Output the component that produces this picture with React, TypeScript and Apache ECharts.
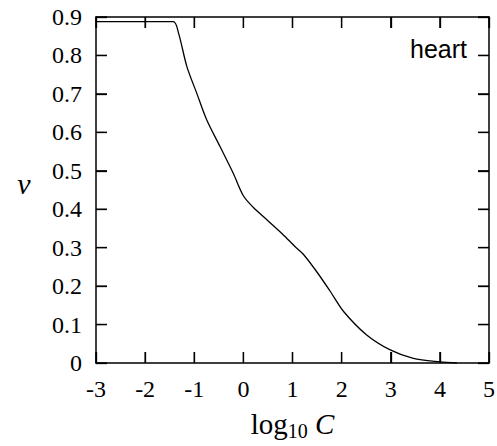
import React, { useEffect, useRef } from "react";
import * as echarts from "echarts";

const logC = [-3, -1.43, -1.32, -1.15, -0.95, -0.745, -0.475, -0.204, 0.0, 0.2, 0.5, 0.8, 1.05, 1.22, 1.49, 1.77, 2.04, 2.51, 2.99, 3.46, 4.0, 4.35];
const nu = [0.888, 0.888, 0.858, 0.771, 0.702, 0.632, 0.563, 0.493, 0.435, 0.405, 0.37, 0.335, 0.303, 0.283, 0.238, 0.186, 0.134, 0.073, 0.034, 0.012, 0.003, 0.0];
const xTicks = [-3, -2, -1, 0, 1, 2, 3, 4, 5];
const yTicks = [0, 0.1, 0.2, 0.3, 0.4, 0.5, 0.6, 0.7, 0.8, 0.9];

const SERIF = "Liberation Serif";
const TICK_LEN = 11;

const mkLine = () => ({ show: true, onZero: false, lineStyle: { color: "#000", width: 1.5 } });
const mkTick = () => ({ show: true, inside: true, length: TICK_LEN, lineStyle: { color: "#000", width: 1.3 } });
const labelRich = { v: { fontFamily: SERIF, fontSize: 24, color: "#000" } };

export default function App() {
  const ref = useRef<HTMLDivElement>(null);
  useEffect(() => {
    if (!ref.current) return;
    const chart = echarts.init(ref.current, undefined, { renderer: "svg" });
    const yMin = yTicks[0];
    const yMax = yTicks[yTicks.length - 1];
    const xMin = xTicks[0];
    const xMax = xTicks[xTicks.length - 1];
    const tickStyle = { stroke: "#000", lineWidth: 1.3 };
    chart.setOption({
      animation: false,
      backgroundColor: "#fff",
      textStyle: { fontFamily: SERIF, color: "#000" },
      grid: { left: 96, right: 8, top: 17, bottom: 83, containLabel: false, outerBoundsMode: "none" },
      xAxis: [
        {
          type: "value", min: xMin, max: xMax, interval: 1, position: "bottom",
          axisLine: mkLine(), axisTick: mkTick(), splitLine: { show: false },
          axisLabel: { show: true, margin: 14, rich: labelRich,
            formatter: (v: number) => (xTicks.includes(v) ? "{v|" + String(v) + "}" : "") },
          name: "{a|log}{s|10}{c| C}", nameLocation: "middle", nameGap: 44,
          nameTextStyle: {
            rich: {
              a: { fontFamily: SERIF, fontSize: 29, color: "#000" },
              s: { fontFamily: SERIF, fontSize: 20, color: "#000", padding: [14, 0, 0, 0] },
              c: { fontFamily: SERIF, fontSize: 29, fontStyle: "italic", color: "#000" },
            },
          },
        },
        {
          type: "value", min: xMin, max: xMax, interval: 1, position: "top",
          axisLine: mkLine(), axisTick: mkTick(), axisLabel: { show: false }, splitLine: { show: false },
        },
      ],
      yAxis: [
        {
          type: "value", min: yMin, max: yMax, interval: 0.1, position: "left",
          axisLine: mkLine(), axisTick: mkTick(), splitLine: { show: false },
          axisLabel: { show: true, margin: 14, rich: labelRich,
            formatter: (v: number) => {
              const t = yTicks.find((y) => Math.abs(y - v) < 1e-6);
              if (t === undefined) return "";
              return "{v|" + (t === 0 ? "0" : t.toFixed(1)) + "}";
            } },
        },
        {
          type: "value", min: yMin, max: yMax, interval: 0.1, position: "right",
          axisLine: mkLine(), axisTick: mkTick(), axisLabel: { show: false }, splitLine: { show: false },
        },
      ],
      graphic: [
        {
          id: "heart", type: "text", left: 410, top: 36,
          style: { text: "heart", fontFamily: "Liberation Sans", fontSize: 25, fill: "#000" },
        },
        {
          id: "nu", type: "text", x: 24, y: 183,
          style: { text: "ν", fontFamily: SERIF, fontStyle: "italic", fontSize: 30, fill: "#000", align: "center", verticalAlign: "middle" },
        },
      ],
      series: [
        {
          type: "line", xAxisIndex: 0, yAxisIndex: 0,
          data: logC.map((x, i) => [x, nu[i]]),
          showSymbol: false, smooth: 0.3,
          lineStyle: { color: "#000", width: 1.3 },
        },
        {
          // inward frame ticks on bottom and top, placed through the axes' scales
          type: "custom", xAxisIndex: 0, yAxisIndex: 0, silent: true, z: 3,
          data: xTicks.map((x) => [x, yMin]),
          encode: { x: 0, y: 1 },
          renderItem: (_p: any, api: any) => {
            const x = api.value(0);
            const b = api.coord([x, yMin]);
            const t = api.coord([x, yMax]);
            return {
              type: "group",
              children: [
                { type: "line", shape: { x1: b[0], y1: b[1], x2: b[0], y2: b[1] - TICK_LEN }, style: tickStyle },
                { type: "line", shape: { x1: t[0], y1: t[1], x2: t[0], y2: t[1] + TICK_LEN }, style: tickStyle },
              ],
            };
          },
        },
        {
          // inward frame ticks on left and right
          type: "custom", xAxisIndex: 0, yAxisIndex: 0, silent: true, z: 3,
          data: yTicks.map((y) => [xMin, y]),
          encode: { x: 0, y: 1 },
          renderItem: (_p: any, api: any) => {
            const y = api.value(1);
            const l = api.coord([xMin, y]);
            const r = api.coord([xMax, y]);
            return {
              type: "group",
              children: [
                { type: "line", shape: { x1: l[0], y1: l[1], x2: l[0] + TICK_LEN, y2: l[1] }, style: tickStyle },
                { type: "line", shape: { x1: r[0], y1: r[1], x2: r[0] - TICK_LEN, y2: r[1] }, style: tickStyle },
              ],
            };
          },
        },
      ],
    });
    return () => chart.dispose();
  }, []);
  return <div ref={ref} style={{ position: "absolute", left: 0, top: 0, width: 497, height: 446 }} />;
}
